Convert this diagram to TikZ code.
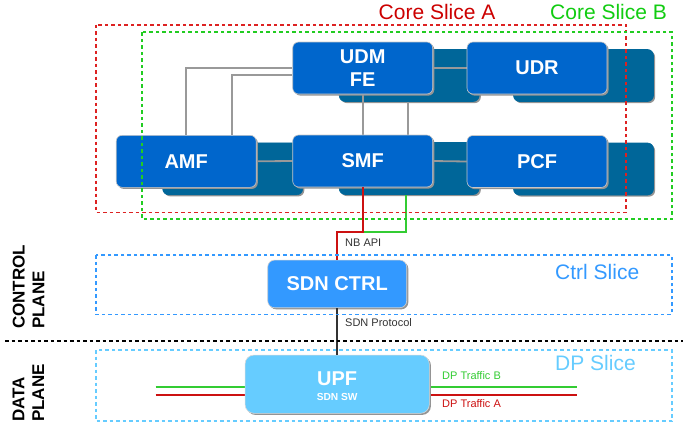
\documentclass[tikz,border=0pt]{standalone}
\usepackage{fontspec}
\setmainfont{Liberation Sans}
\usetikzlibrary{shadows,calc}
\definecolor{nfblue}{HTML}{0066CC}
\definecolor{nfteal}{HTML}{006699}
\definecolor{conngray}{HTML}{999999}
\definecolor{sdnblue}{HTML}{3399FF}
\definecolor{upfblue}{HTML}{66CCFF}
\definecolor{slicered}{HTML}{DD2222}
\definecolor{slicegreen}{HTML}{22CC22}
\definecolor{txtred}{HTML}{CC0000}
\definecolor{txtgreen}{HTML}{11CC11}
\definecolor{linered}{HTML}{CC1111}
\definecolor{linegreen}{HTML}{33CC33}
\definecolor{labgray}{HTML}{333333}
\pgfdeclarelayer{backl}
\pgfdeclarelayer{midl}
\pgfsetlayers{backl,midl,main}
\begin{document}
\begin{tikzpicture}[x=1pt,y=-1pt,
  shad/.style={drop shadow={shadow xshift=1.6pt,shadow yshift=-1.6pt,fill=black!42,opacity=1}},
  nf/.style={rectangle,rounded corners=6pt,minimum width=140pt,minimum height=52pt,inner sep=0pt,
    fill=nfblue,draw=black!22,line width=0.6pt,shad,text=white,
    font=\fontsize{20}{23.4}\selectfont\bfseries,align=center},
  nfback/.style={nf,fill=nfteal,draw=nfteal},
  gl/.style={draw=conngray,line width=1.8pt},
  slicebox/.style={line width=1.8pt,dash pattern=on 3.5pt off 3pt},
  smalllab/.style={font=\fontsize{11}{13}\selectfont,inner sep=0pt,anchor=base west},
  slicelab/.style={font=\fontsize{21}{24}\selectfont,inner sep=0pt,anchor=base west},
  planelab/.style={font=\fontsize{17}{19.7}\selectfont\bfseries,inner sep=0pt,rotate=90,align=left,anchor=west}
]
\useasboundingbox (0,0) rectangle (683,426);

% back (shadow) boxes
\begin{pgfonlayer}{backl}
\node[nfback] (udmb) at (409.2,75.5) {};
\node[nfback] (udrb) at (583.5,75.5) {};
\node[nfback] (amfb) at (232.7,168.8) {};
\node[nfback] (smfb) at (409.2,168.5) {};
\node[nfback] (pcfb) at (583.5,169) {};
\end{pgfonlayer}

% front boxes
\node[nf] (udm) at (362.7,68) {UDM\\FE};
\node[nf] (udr) at (537,68) {UDR};
\node[nf] (amf) at (186.2,161.3) {AMF};
\node[nf] (smf) at (362.7,161) {SMF};
\node[nf] (pcf) at (537,161.5) {PCF};

% gray connectors
\begin{pgfonlayer}{midl}
\draw[gl] (amf.north) |- (udm.west);
\draw[gl] ([xshift=46pt]amf.north) |- ([yshift=-7pt]udm.west);
\draw[gl] (udm.south) -- (smf.north);
\draw[gl] ([xshift=-1.5pt]udmb.south) -- ([xshift=-1.5pt]udmb.south |- smf.north);
\draw[gl] (udm.east) -- (udr.west);
\draw[gl] (amf.east) -- (smf.west);
\draw[gl] (smf.east) -- (pcf.west);
\end{pgfonlayer}

% SDN controller and UPF
\node[rectangle,rounded corners=7pt,minimum width=139pt,minimum height=47.7pt,inner sep=0pt,
  fill=sdnblue,draw=black!18,line width=0.6pt,shad,text=white,
  font=\fontsize{20}{24}\selectfont\bfseries] (sdn) at (337.2,283.9) {SDN CTRL};

\coordinate (tbl) at (155.7,386.7);
\coordinate (tbr) at (576.7,386.7);
\coordinate (tal) at (155.7,394.7);
\coordinate (tar) at (576.7,394.7);
\draw[linegreen,line width=1.8pt] (tbl) -- (tbr);
\draw[linered,line width=1.8pt] (tal) -- (tar);

\node[rectangle,rounded corners=9pt,minimum width=184.3pt,minimum height=58.3pt,inner sep=0pt,
  fill=upfblue,draw=black!15,line width=0.6pt,shad] (upf) at (337.2,384.2) {};
\node[font=\fontsize{20}{24}\selectfont\bfseries,text=white,inner sep=0pt,anchor=base] (upft) at (337.2,385) {UPF};
\node[font=\fontsize{10.2}{12}\selectfont\bfseries,text=white,inner sep=0pt,anchor=base] (upfs) at (337.2,400) {SDN SW};

% NB API / SDN protocol connectors
\draw[linegreen,line width=1.8pt] ([xshift=-3pt]smfb.south) -- ++(0,37.2) -| (sdn.north);
\draw[linered,line width=1.8pt] (smf.south) -- ++(0,44.7) -| (sdn.north);
\draw[labgray,line width=1.8pt] (sdn.south) -- (upf.north);

% slice frames
\draw[slicebox,slicered] (96,24.7) rectangle (626,212.5);
\draw[slicebox,slicegreen] (142.3,32.3) rectangle (672.3,219.3);
\draw[slicebox,sdnblue] (96,255.3) rectangle (671.7,314.5);
\draw[slicebox,upfblue] (96,350) rectangle (671.7,421);
\draw[line width=1.8pt,dash pattern=on 3.5pt off 3pt,black] (5,340.7) -- (683,340.7);

% labels
\node[slicelab,text=txtred] (csa) at (378.5,19.5) {Core Slice A};
\node[slicelab,text=txtgreen] (csb) at (550,19.5) {Core Slice B};
\node[slicelab,text=sdnblue] (cts) at (555,279) {Ctrl Slice};
\node[slicelab,text=upfblue] (dps) at (555,370.7) {DP Slice};
\node[smalllab,text=labgray] (nbapi) at (345,246.7) {NB API};
\node[smalllab,text=labgray] (sdnp) at (345,326.7) {SDN Protocol};
\node[smalllab,text=linegreen] (dptb) at (442,379) {DP Traffic B};
\node[smalllab,text=linered] (dpta) at (442,407) {DP Traffic A};
\node[planelab] (cp) at (28.5,329) {CONTROL\\PLANE};
\node[planelab] (dp) at (28.5,422) {DATA\\PLANE};
\end{tikzpicture}
\end{document}
